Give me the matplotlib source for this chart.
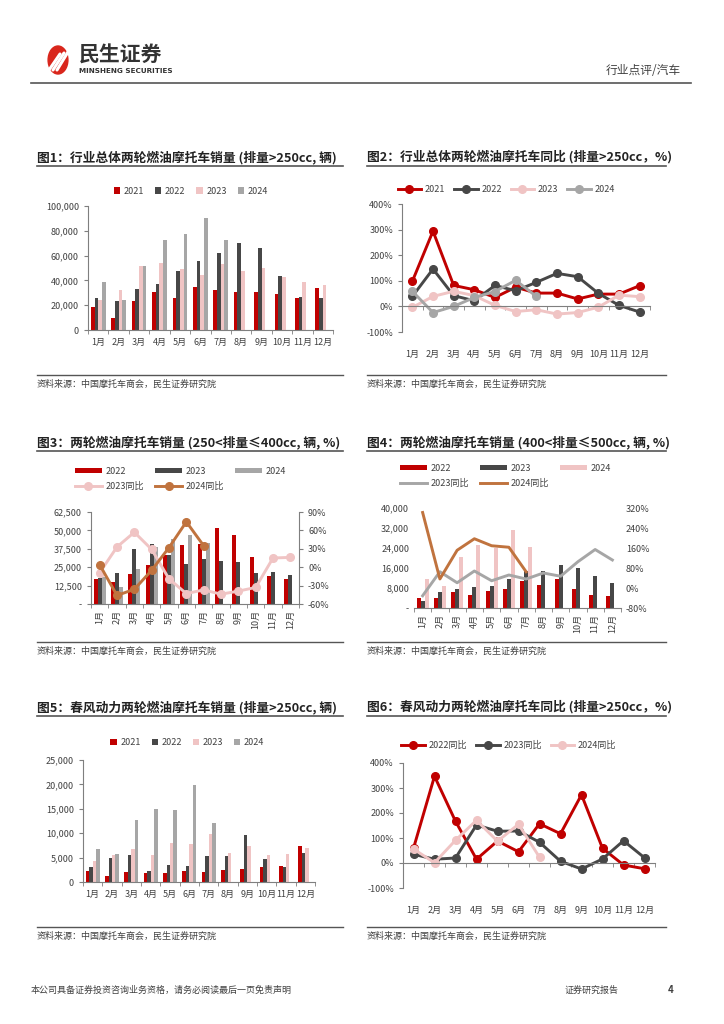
import matplotlib
matplotlib.use('Agg')
import matplotlib.pyplot as plt
import numpy as np
from matplotlib.lines import Line2D
from matplotlib.patches import Circle

plt.rcParams['font.family'] = ['Noto Sans CJK SC', 'DejaVu Sans']

months = ['1月', '2月', '3月', '4月', '5月', '6月', '7月', '8月', '9月', '10月', '11月', '12月']
nan = np.nan

# Fig1: total sales >250cc
f1_2021 = [18500, 9500, 23500, 30500, 26000, 34500, 32000, 30500, 30500, 29000, 26000, 33500]
f1_2022 = [25500, 23500, 33000, 37500, 47500, 55500, 62000, 70000, 66000, 43500, 27000, 26000]
f1_2023 = [24500, 32500, 51500, 54000, 49000, 44500, 53000, 47500, 50000, 42500, 38500, 36000]
f1_2024 = [38500, 24500, 52000, 72500, 77500, 90000, 72500, nan, nan, nan, nan, nan]

# Fig2: total yoy (%)
f2_2021 = [98, 294, 82, 65, 35, 75, 52, 52, 29, 48, 48, 81]
f2_2022 = [39, 146, 42, 22, 82, 61, 94, 129, 116, 51, 4, -22]
f2_2023 = [-4, 39, 59, 42, 4, -20, -13, -30, -24, -3, 44, 38]
f2_2024 = [59, -24, 0, 35, 58, 102, 39, nan, nan, nan, nan, nan]

# Fig3: 250-400cc
f3_2022 = [17150, 14700, 20300, 26200, 33600, 39900, 41000, 51400, 47200, 31800, 19000, 16900]
f3_2023 = [18000, 21200, 37700, 40800, 33400, 27100, 30900, 29100, 28200, 21200, 21900, 19600]
f3_2024 = [18500, 11300, 23700, 38600, 44000, 46700, 41700, nan, nan, nan, nan, nan]
f3_yoy23 = [-9, 33, 57, 29, -19, -43, -37, -44, -39, -33, 15, 16]
f3_yoy24 = [4, -46, -36, -5, 32, 74, 35, nan, nan, nan, nan, nan]

# Fig4: 400-500cc
f4_2022 = [4000, 3850, 6500, 5200, 6900, 7800, 10800, 9200, 11700, 7700, 5200, 4800]
f4_2023 = [2800, 6400, 7800, 8400, 9000, 11800, 14800, 14800, 17400, 16000, 13000, 10100]
f4_2024 = [11600, 8800, 20300, 25100, 24200, 31100, 24300, nan, nan, nan, nan, nan]
f4_yoy23 = [-31, 65, 21, 68, 29, 52, 36, 60, 47, 105, 154, 112]
f4_yoy24 = [302, 36, 151, 197, 169, 163, 65, nan, nan, nan, nan, nan]

# Fig5: CFMOTO sales
f5_2021 = [2260, 1160, 2120, 1900, 1900, 2260, 2100, 2460, 2600, 3000, 3350, 7450]
f5_2022 = [3150, 4930, 5550, 2260, 3500, 3350, 5400, 5340, 9650, 4730, 3080, 5900]
f5_2023 = [4250, 5480, 6700, 5480, 7950, 7800, 9930, 5900, 7400, 5480, 5700, 7000]
f5_2024 = [6800, 5700, 12750, 15000, 14700, 19900, 12050, nan, nan, nan, nan, nan]

# Fig6: CFMOTO yoy (%)
f6_2022 = [59, 347, 167, 15, 88, 45, 157, 117, 273, 59, -8, -23]
f6_2023 = [35, 15, 20, 152, 127, 128, 83, 7, -24, 16, 89, 21]
f6_2024 = [56, 1, 91, 171, 87, 155, 23, nan, nan, nan, nan, nan]

RED = '#C00000'
DARK = '#474747'
PINK = '#F0C4C4'
GRAY = '#A6A6A6'
BROWN = '#C0733E'
TXT = '#404040'
LW = 2.1
MS = 5.5

W, H = 724, 1024
fig = plt.figure(figsize=(7.24, 10.24), dpi=100)


def fx(px):
    return px / W


def fy(py):
    return 1 - py / H


def axes_px(l, t, r, b):
    return fig.add_axes([fx(l), fy(b), fx(r) - fx(l), fy(t) - fy(b)])


def hline(x0, x1, y, color='#555555', lw=1.2):
    fig.add_artist(Line2D([fx(x0), fx(x1)], [fy(y), fy(y)], color=color, lw=lw))


def panel_frame(x0, x1, title, ty, sy):
    fig.text(fx(x0), fy(ty - 2), title, fontsize=9.2, fontweight='bold', color='#222222', va='bottom')
    hline(x0, x1, ty)
    hline(x0, x1, sy, lw=1.0)
    fig.text(fx(x0), fy(sy + 9), '资料来源：中国摩托车商会，民生证券研究院', fontsize=6.5, color=TXT, va='center')


def style_axis(ax):
    for s in ['top', 'right']:
        ax.spines[s].set_visible(False)
    ax.spines['left'].set_color('#7f7f7f')
    ax.spines['bottom'].set_color('#7f7f7f')
    ax.tick_params(axis='both', labelsize=6.5, colors=TXT, length=3, width=0.8)
    ax.tick_params(axis='y', color='#7f7f7f')
    ax.tick_params(axis='x', which='minor', length=3, color='#7f7f7f')


x = np.arange(12)

# ---------------- header / footer ----------------
fig.add_artist(Circle((fx(58), fy(60)), 14 / H, transform=fig.transFigure, color='#D9261C'))
for k in range(3):
    fig.add_artist(Line2D([fx(49 + 4 * k), fx(60 + 4 * k)], [fy(70), fy(54 - k)],
                          color='white', lw=2.2, solid_capstyle='round'))
fig.text(fx(79), fy(55), '民生证券', fontsize=15, fontweight='bold', color='#333333', va='center')
fig.text(fx(79), fy(71), 'MINSHENG SECURITIES', fontsize=5.2, fontweight='bold', color='#333333',
         va='center', family='DejaVu Sans')
fig.text(fx(681), fy(70), '行业点评/汽车', fontsize=8.5, color=TXT, ha='right', va='center')
hline(31, 691, 83, color='#555555', lw=1.2)
fig.text(fx(31), fy(990), '本公司具备证券投资咨询业务资格，请务必阅读最后一页免责声明', fontsize=6.5,
         color=TXT, va='center')
fig.text(fx(565), fy(990), '证券研究报告', fontsize=6.5, color=TXT, va='center')
fig.text(fx(668), fy(990), '4', fontsize=7, color=TXT, va='center', fontweight='bold')

# ---------------- Fig1 ----------------
panel_frame(37, 343, '图1：行业总体两轮燃油摩托车销量 (排量>250cc, 辆)', 166, 375)
ax1 = axes_px(88, 206, 333, 330)
bw = 0.18
for i, (vals, col, lab) in enumerate([(f1_2021, RED, '2021'), (f1_2022, DARK, '2022'),
                                      (f1_2023, PINK, '2023'), (f1_2024, GRAY, '2024')]):
    ax1.bar(x + (i - 1.5) * bw, vals, width=bw, color=col, label=lab)
ax1.set_xlim(-0.5, 11.5)
ax1.set_ylim(0, 100000)
ax1.set_yticks(np.arange(0, 100001, 20000))
ax1.set_yticklabels([f'{v:,}' for v in range(0, 100001, 20000)])
ax1.set_xticks(x)
ax1.set_xticklabels(months)
ax1.set_xticks(np.arange(-0.5, 12, 1), minor=True)
style_axis(ax1)
ax1.tick_params(axis='x', which='major', length=0, pad=6)
ax1.legend(loc='center', bbox_to_anchor=(0.42, 1.12), ncol=4, frameon=False, fontsize=6.5,
           handlelength=0.7, handleheight=0.7, columnspacing=1.2, handletextpad=0.4, labelcolor=TXT)

# ---------------- Fig2 ----------------
panel_frame(367, 666, '图2：行业总体两轮燃油摩托车同比 (排量>250cc，%)', 166, 375)
ax2 = axes_px(402, 204, 650, 332)
for vals, col, lab in [(f2_2021, RED, '2021'), (f2_2022, DARK, '2022'),
                       (f2_2023, PINK, '2023'), (f2_2024, GRAY, '2024')]:
    ax2.plot(x, vals, color=col, lw=LW, marker='o', ms=MS, label=lab)
ax2.set_xlim(-0.5, 11.5)
ax2.set_ylim(-100, 400)
ax2.set_yticks(np.arange(-100, 401, 100))
ax2.set_yticklabels([f'{v}%' for v in range(-100, 401, 100)])
ax2.set_xticks(x)
ax2.set_xticklabels(months)
ax2.set_xticks(np.arange(-0.5, 12, 1), minor=True)
style_axis(ax2)
ax2.spines['bottom'].set_position(('data', 0))
ax2.tick_params(axis='x', which='major', length=0, pad=31)
ax2.legend(loc='center', bbox_to_anchor=(0.42, 1.11), ncol=4, frameon=False, fontsize=6.5,
           handlelength=2.6, columnspacing=1.0, handletextpad=0.4, labelcolor=TXT)

# ---------------- Fig3 ----------------
panel_frame(37, 343, '图3：两轮燃油摩托车销量 (250<排量≤400cc, 辆, %)', 451, 642)
ax3 = axes_px(91, 512, 299, 604)
bw3 = 0.23
b3 = []
for i, (vals, col, lab) in enumerate([(f3_2022, RED, '2022'), (f3_2023, DARK, '2023'),
                                      (f3_2024, GRAY, '2024')]):
    b3.append(ax3.bar(x + (i - 1) * bw3, vals, width=bw3, color=col, label=lab))
ax3.set_xlim(-0.5, 11.5)
ax3.set_ylim(0, 62500)
ax3.set_yticks(np.arange(0, 62501, 12500))
ax3.set_yticklabels(['-'] + [f'{v:,}' for v in range(12500, 62501, 12500)])
ax3.set_xticks(x)
ax3.set_xticklabels(months, rotation=90)
ax3.set_xticks(np.arange(-0.5, 12, 1), minor=True)
style_axis(ax3)
ax3.tick_params(axis='x', which='major', length=0, pad=4)
ax3r = ax3.twinx()
l3a, = ax3r.plot(x, f3_yoy23, color=PINK, lw=LW, marker='o', ms=MS, label='2023同比')
l3b, = ax3r.plot(x, f3_yoy24, color=BROWN, lw=LW, marker='o', ms=MS, label='2024同比')
ax3r.set_ylim(-60, 90)
ax3r.set_yticks(np.arange(-60, 91, 30))
ax3r.set_yticklabels([f'{v}%' for v in range(-60, 91, 30)])
for s in ['top', 'left', 'bottom']:
    ax3r.spines[s].set_visible(False)
ax3r.spines['right'].set_color('#7f7f7f')
ax3r.tick_params(axis='y', labelsize=6.5, colors=TXT, length=3, color='#7f7f7f')
ax3.legend([b3[0], l3a, b3[1], l3b, b3[2]], ['2022', '2023同比', '2023', '2024同比', '2024'],
           loc='center', bbox_to_anchor=(0.43, 1.36), ncol=3, frameon=False, fontsize=6.5,
           handlelength=3.0, handleheight=0.6, columnspacing=1.2, handletextpad=0.4,
           labelcolor=TXT, labelspacing=0.7)

# ---------------- Fig4 ----------------
panel_frame(367, 666, '图4：两轮燃油摩托车销量 (400<排量≤500cc, 辆, %)', 451, 642)
ax4 = axes_px(414, 508, 621, 608)
b4 = []
for i, (vals, col, lab) in enumerate([(f4_2022, RED, '2022'), (f4_2023, DARK, '2023'),
                                      (f4_2024, PINK, '2024')]):
    b4.append(ax4.bar(x + (i - 1) * bw3, vals, width=bw3, color=col, label=lab))
ax4.set_xlim(-0.5, 11.5)
ax4.set_ylim(0, 40000)
ax4.set_yticks(np.arange(0, 40001, 8000))
ax4.set_yticklabels(['-'] + [f'{v:,}' for v in range(8000, 40001, 8000)])
ax4.set_xticks(x)
ax4.set_xticklabels(months, rotation=90)
ax4.set_xticks(np.arange(-0.5, 12, 1), minor=True)
style_axis(ax4)
ax4.spines['left'].set_visible(False)
ax4.tick_params(axis='y', length=0)
ax4.tick_params(axis='x', which='major', length=0, pad=4)
ax4r = ax4.twinx()
l4a, = ax4r.plot(x, f4_yoy23, color=GRAY, lw=LW, label='2023同比')
l4b, = ax4r.plot(x, f4_yoy24, color=BROWN, lw=LW, label='2024同比')
ax4r.set_ylim(-80, 320)
ax4r.set_yticks(np.arange(-80, 321, 80))
ax4r.set_yticklabels([f'{v}%' for v in range(-80, 321, 80)])
for s in ['top', 'left', 'right', 'bottom']:
    ax4r.spines[s].set_visible(False)
ax4r.tick_params(axis='y', labelsize=6.5, colors=TXT, length=0)
ax4.legend([b4[0], l4a, b4[1], l4b, b4[2]], ['2022', '2023同比', '2023', '2024同比', '2024'],
           loc='center', bbox_to_anchor=(0.44, 1.32), ncol=3, frameon=False, fontsize=6.5,
           handlelength=3.0, handleheight=0.6, columnspacing=1.2, handletextpad=0.4,
           labelcolor=TXT, labelspacing=0.7)

# ---------------- Fig5 ----------------
panel_frame(37, 343, '图5：春风动力两轮燃油摩托车销量 (排量>250cc, 辆)', 716, 927)
ax5 = axes_px(83, 760, 315, 882)
for i, (vals, col, lab) in enumerate([(f5_2021, RED, '2021'), (f5_2022, DARK, '2022'),
                                      (f5_2023, PINK, '2023'), (f5_2024, GRAY, '2024')]):
    ax5.bar(x + (i - 1.5) * bw, vals, width=bw, color=col, label=lab)
ax5.set_xlim(-0.5, 11.5)
ax5.set_ylim(0, 25000)
ax5.set_yticks(np.arange(0, 25001, 5000))
ax5.set_yticklabels([f'{v:,}' for v in range(0, 25001, 5000)])
ax5.set_xticks(x)
ax5.set_xticklabels(months)
ax5.set_xticks(np.arange(-0.5, 12, 1), minor=True)
style_axis(ax5)
ax5.tick_params(axis='x', which='major', length=0, pad=6)
ax5.legend(loc='center', bbox_to_anchor=(0.45, 1.14), ncol=4, frameon=False, fontsize=6.5,
           handlelength=0.7, handleheight=0.7, columnspacing=1.2, handletextpad=0.4, labelcolor=TXT)

# ---------------- Fig6 ----------------
panel_frame(367, 666, '图6：春风动力两轮燃油摩托车同比 (排量>250cc，%)', 716, 927)
ax6 = axes_px(403, 763, 655, 888)
for vals, col, lab in [(f6_2022, RED, '2022同比'), (f6_2023, DARK, '2023同比'),
                       (f6_2024, PINK, '2024同比')]:
    ax6.plot(x, vals, color=col, lw=LW, marker='o', ms=MS, label=lab)
ax6.set_xlim(-0.5, 11.5)
ax6.set_ylim(-100, 400)
ax6.set_yticks(np.arange(-100, 401, 100))
ax6.set_yticklabels([f'{v}%' for v in range(-100, 401, 100)])
ax6.set_xticks(x)
ax6.set_xticklabels(months)
ax6.set_xticks(np.arange(-0.5, 12, 1), minor=True)
style_axis(ax6)
ax6.spines['bottom'].set_position(('data', 0))
ax6.tick_params(axis='x', which='major', length=0, pad=31)
ax6.legend(loc='center', bbox_to_anchor=(0.42, 1.14), ncol=3, frameon=False, fontsize=6.5,
           handlelength=2.6, columnspacing=1.0, handletextpad=0.4, labelcolor=TXT)

fig.savefig('out.png', dpi=100)
